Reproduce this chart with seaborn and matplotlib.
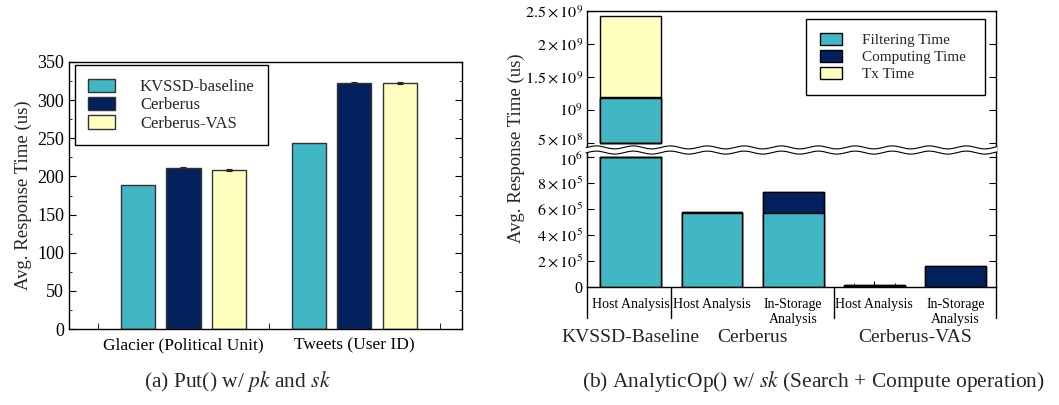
import numpy as np
import pandas as pd
import matplotlib
matplotlib.use("Agg")
import matplotlib.pyplot as plt
import matplotlib.transforms as mtrans
from matplotlib.lines import Line2D
from matplotlib.patches import Patch, Polygon
from matplotlib.ticker import MultipleLocator, FixedLocator, FuncFormatter
import seaborn as sns

# ---------------- data ----------------
put_datasets = ["Glacier (Political Unit)", "Tweets (User ID)"]
put_systems = ["KVSSD-baseline", "Cerberus", "Cerberus-VAS"]
put_kvssd = [189.0, 243.5]
put_cerberus = [210.5, 322.5]
put_vas = [208.5, 322.5]
put_kvssd_err = [0.0, 0.0]
put_cerberus_err = [1.5, 1.5]
put_vas_err = [1.5, 1.5]

ana_groups = ["KVSSD-Baseline", "Cerberus", "Cerberus", "Cerberus-VAS", "Cerberus-VAS"]
ana_modes = ["Host Analysis", "Host Analysis", "In-Storage\nAnalysis",
             "Host Analysis", "In-Storage\nAnalysis"]
ana_filtering = [1.185e9, 5.70e5, 5.67e5, 5.0e3, 3.0e3]
ana_computing = [5.0e6, 8.0e3, 1.61e5, 7.0e3, 1.56e5]
ana_tx = [1.24e9, 0.0, 0.0, 0.0, 0.0]
ana_series = ["Filtering Time", "Computing Time", "Tx Time"]

put_yticks = [0, 50, 100, 150, 200, 250, 300, 350]
top_yticks = [5e8, 1e9, 1.5e9, 2e9, 2.5e9]
bot_yticks = [0, 2e5, 4e5, 6e5, 8e5, 1e6]

TEAL = "#41b6c4"
NAVY = "#03215c"
YELLOW = "#ffffc0"

# ---------------- style ----------------
sns.set_style("ticks")
plt.rcParams["font.family"] = ["Liberation Serif", "DejaVu Serif"]
plt.rcParams["mathtext.fontset"] = "stix"
plt.rcParams["axes.edgecolor"] = "black"
plt.rcParams["axes.linewidth"] = 1.0
plt.rcParams["xtick.color"] = "black"
plt.rcParams["ytick.color"] = "black"

W, H = 1059, 405
fig = plt.figure(figsize=(W / 100, H / 100), dpi=100)


def px_axes(x0, y0, x1, y1):
    return fig.add_axes([x0 / W, 1 - y1 / H, (x1 - x0) / W, (y1 - y0) / H])


# ---------------- (a) left chart ----------------
axL = px_axes(69, 62, 462, 329)
df_put = pd.DataFrame({
    "dataset": put_datasets * 3,
    "system": np.repeat(put_systems, len(put_datasets)),
    "time": put_kvssd + put_cerberus + put_vas,
})
sns.barplot(data=df_put, x="dataset", y="time", hue="system",
            order=put_datasets, hue_order=put_systems,
            palette=[TEAL, NAVY, YELLOW], saturation=1, width=0.8, gap=0.25,
            edgecolor="#333333", linewidth=1.0, errorbar=None, legend=False,
            ax=axL)
for cont, err in zip(axL.containers, [put_kvssd_err, put_cerberus_err, put_vas_err]):
    for b, e in zip(cont, err):
        if e > 0:
            axL.errorbar([b.get_x() + b.get_width() / 2], [b.get_height()],
                         yerr=[e], fmt="none", ecolor="#222222",
                         elinewidth=0.8, capsize=2.5, capthick=0.8, zorder=5)

axL.set_xlim(-0.67, 1.63)
axL.set_ylim(0, 350)
axL.set_yticks(put_yticks)
axL.yaxis.set_minor_locator(MultipleLocator(25))
axL.xaxis.set_minor_locator(FixedLocator([-0.5, 0.5, 1.5]))
axL.tick_params(axis="y", which="both", direction="in", left=True, right=True,
                labelsize=13)
axL.tick_params(axis="y", which="major", length=5)
axL.tick_params(axis="y", which="minor", length=2.5)
axL.tick_params(axis="x", which="both", direction="in", bottom=True, top=False,
                labelsize=12.5, length=4, pad=6)
axL.set_xlabel("")
axL.set_ylabel("Avg. Response Time (us)", fontsize=13.5)
for s in axL.spines.values():
    s.set_visible(True)
    s.set_color("black")

hL = [Patch(facecolor=c, edgecolor="#333333", label=s)
      for c, s in zip([TEAL, NAVY, YELLOW], put_systems)]
legL = axL.legend(handles=hL, loc="upper left", bbox_to_anchor=(0.015, 0.988),
                  frameon=True, fancybox=False, edgecolor="black", framealpha=1,
                  fontsize=12, handlelength=1.6, handleheight=0.85,
                  handletextpad=1.5, labelspacing=0.12, borderpad=0.8,
                  borderaxespad=0)
legL.get_frame().set_linewidth(1.0)

# ---------------- (b) right chart ----------------
axT = px_axes(587, 11, 996, 143)
axB = px_axes(587, 157, 996, 287)

bar_ids = [f"{g}|{m}|{i}" for i, (g, m) in enumerate(zip(ana_groups, ana_modes))]
df_ana = pd.DataFrame({
    "bar": bar_ids,
    "filtering": ana_filtering,
    "computing": ana_computing,
    "tx": ana_tx,
})
df_ana["fc"] = df_ana["filtering"] + df_ana["computing"]
df_ana["total"] = df_ana["fc"] + df_ana["tx"]

for ax in (axT, axB):
    for col, colr in [("total", YELLOW), ("fc", NAVY), ("filtering", TEAL)]:
        sns.barplot(data=df_ana, x="bar", y=col, order=bar_ids, color=colr,
                    saturation=1, width=0.75, edgecolor="black", linewidth=1.0,
                    errorbar=None, ax=ax)
    ax.set_xlim(-0.54, 4.5)
    ax.set_xlabel("")
    ax.set_ylabel("")
    for s in ax.spines.values():
        s.set_color("black")

axT.set_ylim(5e8, 2.5e9)
axB.set_ylim(0, 1e6)


def sci_fmt(v, pos=None):
    if v == 0:
        return "0"
    e = int(np.floor(np.log10(v) + 1e-9))
    m = v / 10 ** e
    if abs(m - 1) < 1e-9:
        return r"$10^{%d}$" % e
    ms = ("%g" % round(m, 2))
    return r"$%s\times10^{%d}$" % (ms, e)


axT.set_yticks(top_yticks)
axB.set_yticks(bot_yticks)
axT.yaxis.set_major_formatter(FuncFormatter(sci_fmt))
axB.yaxis.set_major_formatter(FuncFormatter(sci_fmt))
for ax in (axT, axB):
    ax.tick_params(axis="y", which="both", direction="in", left=True, right=True,
                   length=5, labelsize=11.5, pad=3)

axT.spines["bottom"].set_visible(False)
axB.spines["top"].set_visible(False)
axT.tick_params(axis="x", which="both", bottom=False, top=False, labelbottom=False)

axB.set_xticks(range(len(bar_ids)))
axB.set_xticklabels(ana_modes, fontsize=10, linespacing=1.2)
axB.xaxis.set_minor_locator(FixedLocator(
    [i + d for i in range(len(bar_ids)) for d in (-0.25, 0.25)]))
axB.tick_params(axis="x", which="both", direction="in", bottom=True, top=False,
                pad=8)
axB.tick_params(axis="x", which="major", length=4)
axB.tick_params(axis="x", which="minor", length=3)

# nudge the two labels that meet at the axis break apart a little
fig.canvas.draw()
up = mtrans.ScaledTranslation(0, 2.5 / 72, fig.dpi_scale_trans)
down = mtrans.ScaledTranslation(0, -1.5 / 72, fig.dpi_scale_trans)
tl_top = axT.yaxis.get_major_ticks()[0].label1
tl_top.set_transform(tl_top.get_transform() + up)
tl_bot = axB.yaxis.get_major_ticks()[-1].label1
tl_bot.set_transform(tl_bot.get_transform() + down)

# edges of bars cut by the broken axis
lo_t = axT.get_ylim()[0]
for p in axT.patches:
    y0, y1 = p.get_y(), p.get_y() + p.get_height()
    if y0 < lo_t < y1:
        axT.plot([p.get_x(), p.get_x() + p.get_width()], [lo_t, lo_t],
                 color="black", lw=1.0, clip_on=False, zorder=4)
hi_b = axB.get_ylim()[1]
for p in axB.patches:
    y0, y1 = p.get_y(), p.get_y() + p.get_height()
    if y0 < hi_b < y1:
        axB.plot([p.get_x(), p.get_x() + p.get_width()], [hi_b, hi_b],
                 color="black", lw=1.0, clip_on=False, zorder=4)

# spines across the gap
pT, pB = axT.get_position(), axB.get_position()
for xx in (pT.x0, pT.x1):
    fig.add_artist(Line2D([xx, xx], [pB.y1, pT.y0], transform=fig.transFigure,
                          color="black", lw=1.0))

# wavy break marks
yc = (pB.y1 + pT.y0) / 2
xs = np.linspace(pT.x0 - 1 / W, pT.x1 + 1 / W, 400)
amp = 1.5 / H
per = 37 / W
wave = amp * np.sin(2 * np.pi * (xs - pT.x0) / per)
off = 2.6 / H
upper = yc + off + wave
lower = yc - off + wave
poly = Polygon(np.column_stack([np.r_[xs, xs[::-1]], np.r_[upper, lower[::-1]]]),
               closed=True, facecolor="white", edgecolor="none",
               transform=fig.transFigure, zorder=10)
fig.add_artist(poly)
for yy in (upper, lower):
    fig.add_artist(Line2D(xs, yy, transform=fig.transFigure, color="black",
                          lw=0.8, zorder=11))

# group separators and group labels below x axis
bt = mtrans.blended_transform_factory(axB.transData, axB.transAxes)
xl = axB.get_xlim()
sep_x = [xl[0]] + [i + 0.5 for i in range(len(ana_groups) - 1)
                   if ana_groups[i] != ana_groups[i + 1]] + [xl[1]]
for sx in sep_x:
    axB.plot([sx, sx], [0, -0.235], transform=bt, color="black", lw=1.0,
             clip_on=False)
seen = []
for g in ana_groups:
    if g not in seen:
        seen.append(g)
for g in seen:
    idx = [i for i, gg in enumerate(ana_groups) if gg == g]
    axB.text(np.mean(idx), -0.385, g, transform=bt, ha="center", va="center",
             fontsize=14)

fig.text(516 / W, 1 - 148 / H, "Avg. Response Time (us)", rotation=90,
         ha="center", va="center", fontsize=13.5)

hR = [Patch(facecolor=c, edgecolor="black", label=s)
      for c, s in zip([TEAL, NAVY, YELLOW], ana_series)]
legR = axT.legend(handles=hR, loc="upper left",
                  bbox_to_anchor=(0.535, 0.0, 0.438, 0.939), mode="expand",
                  frameon=True, fancybox=False, edgecolor="black", framealpha=1,
                  fontsize=11, handlelength=1.5, handleheight=0.85,
                  handletextpad=1.3, labelspacing=0.18, borderpad=0.9,
                  borderaxespad=0)
legR.get_frame().set_linewidth(1.0)

# captions
fig.text(237 / W, 1 - 382 / H, r"(a) Put() w/ $\mathit{pk}$ and $\mathit{sk}$",
         ha="center", va="center", fontsize=15.5)
fig.text(813 / W, 1 - 382 / H,
         r"(b) AnalyticOp() w/ $\mathit{sk}$ (Search + Compute operation)",
         ha="center", va="center", fontsize=15.5)

fig.savefig("out.png", dpi=100)
